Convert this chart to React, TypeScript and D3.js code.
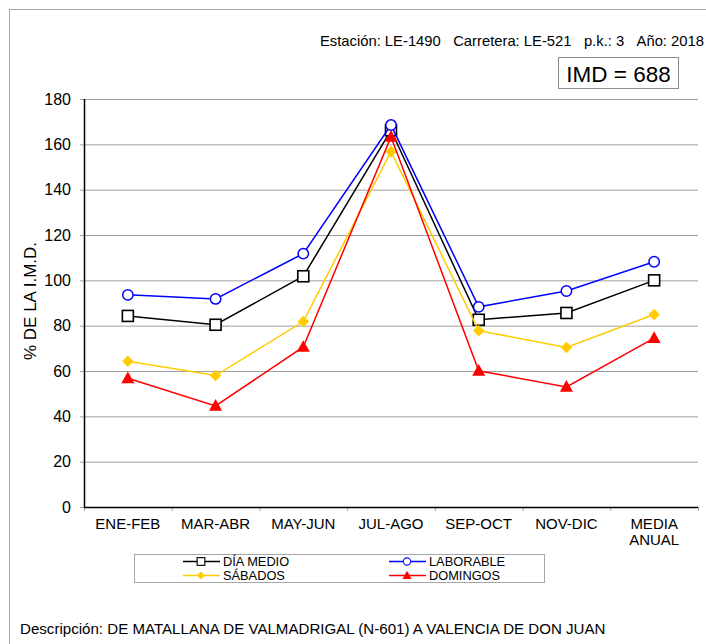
import React from "react";
import * as d3 from "d3";

const categories = ["ENE-FEB", "MAR-ABR", "MAY-JUN", "JUL-AGO", "SEP-OCT", "NOV-DIC", "MEDIA ANUAL"];
const diaMedio = [84.3, 80.4, 101.8, 166.2, 82.6, 85.6, 100];
const laborable = [93.6, 91.8, 111.8, 168.5, 88.3, 95.3, 108.2];
const sabados = [64.3, 58, 81.8, 156.8, 77.8, 70.4, 84.9];
const domingos = [56.8, 44.6, 70.6, 163.3, 60.1, 53, 74.5];
const yTicks = [0, 20, 40, 60, 80, 100, 120, 140, 160, 180];

const seriesList = [
  { name: "DÍA MEDIO", values: diaMedio, color: "#000000", marker: "square" },
  { name: "LABORABLE", values: laborable, color: "#0000FF", marker: "circle" },
  { name: "SÁBADOS", values: sabados, color: "#FFCC00", marker: "diamond" },
  { name: "DOMINGOS", values: domingos, color: "#FF0000", marker: "triangle" },
];

const FONT = "'Liberation Sans', Arial, Helvetica, sans-serif";

function Marker({ type, x, y, color }: { type: string; x: number; y: number; color: string }) {
  if (type === "square") {
    return <rect x={x - 5.5} y={y - 5.5} width={11} height={11} fill="#fff" stroke={color} strokeWidth={1.6} />;
  }
  if (type === "circle") {
    return <circle cx={x} cy={y} r={5.2} fill="#fff" stroke={color} strokeWidth={1.5} />;
  }
  if (type === "diamond") {
    const s = 5.5;
    return <path d={`M${x},${y - s}L${x + s},${y}L${x},${y + s}L${x - s},${y}Z`} fill={color} stroke={color} strokeWidth={0.5} />;
  }
  const s = 6.5;
  return <path d={`M${x},${y - s * 1.05}L${x + s},${y + s * 0.75}L${x - s},${y + s * 0.75}Z`} fill={color} />;
}

export default function App() {
  const W = 706, H = 644;
  const left = 84, right = 698, top = 99, bottom = 507;
  const x = d3.scaleBand<string>().domain(categories).range([left, right]);
  const y = d3.scaleLinear().domain([0, 180]).range([bottom, top]);
  const cx = (c: string) => (x(c) as number) + x.bandwidth() / 2;
  const line = d3.line<number>().x((_, i) => cx(categories[i])).y((v) => y(v));
  const boundaries = categories.map((c) => x(c) as number).concat([right]);

  return (
    <svg width={W} height={H} style={{ position: "absolute", left: 0, top: 0, fontFamily: FONT }}>
      <rect x={0} y={0} width={W} height={H} fill="#fff" />
      <rect x={9.5} y={9.5} width={W + 20} height={H + 20} fill="none" stroke="#a6a6a6" strokeWidth={1} />

      <text x={704} y={46} fontSize={14.8} textAnchor="end" fill="#000">
        {"Estación: LE-1490\u00a0\u00a0\u00a0Carretera: LE-521\u00a0\u00a0\u00a0p.k.: 3\u00a0\u00a0\u00a0Año: 2018"}
      </text>
      <rect x={558.5} y={57.5} width={120} height={31} fill="#fff" stroke="#8c8c8c" strokeWidth={1} />
      <text x={618.5} y={81.5} fontSize={22.5} textAnchor="middle" fill="#000">IMD = 688</text>

      {yTicks.map((t) => (
        <g key={t}>
          {t > 0 && <line x1={left} x2={right} y1={y(t) + 0.5} y2={y(t) + 0.5} stroke="#a0a0a0" strokeWidth={1} />}
          <line x1={left - 4} x2={left} y1={y(t) + 0.5} y2={y(t) + 0.5} stroke="#a0a0a0" strokeWidth={1} />
          <text x={71} y={y(t) + 5.5} fontSize={16} textAnchor="end" fill="#000">{t}</text>
        </g>
      ))}
      {boundaries.map((b, i) => (
        <line key={i} x1={b + 0.5} x2={b + 0.5} y1={bottom} y2={bottom + 4} stroke="#a0a0a0" strokeWidth={1} />
      ))}
      <line x1={left} x2={right} y1={bottom + 0.5} y2={bottom + 0.5} stroke="#000" strokeWidth={1.5} />
      <line x1={left + 0.5} x2={left + 0.5} y1={top} y2={bottom + 0.5} stroke="#000" strokeWidth={1.5} />

      {categories.map((c) => {
        const parts = c === "MEDIA ANUAL" ? ["MEDIA", "ANUAL"] : [c];
        return (
          <text key={c} x={cx(c)} y={529} fontSize={15} textAnchor="middle" fill="#000">
            {parts.map((p, i) => (
              <tspan key={i} x={cx(c)} dy={i === 0 ? 0 : 16}>{p}</tspan>
            ))}
          </text>
        );
      })}

      <text transform={`translate(36,${(top + bottom) / 2 - 2}) rotate(-90)`} fontSize={17} textAnchor="middle" fill="#000">
        % DE LA I.M.D.
      </text>

      {seriesList.map((s) => (
        <g key={s.name}>
          <path d={line(s.values) as string} fill="none" stroke={s.color} strokeWidth={1.5} />
          {s.values.map((v, i) => (
            <Marker key={i} type={s.marker} x={cx(categories[i])} y={y(v)} color={s.color} />
          ))}
        </g>
      ))}

      <rect x={134.5} y={554.5} width={410} height={28} fill="#fff" stroke="#a6a6a6" strokeWidth={1} />
      {seriesList.map((s, i) => {
        const col = i % 2;
        const row = Math.floor(i / 2);
        const lx = col === 0 ? 183 : 389;
        const ly = row === 0 ? 561.5 : 575.5;
        const mx = lx + 18;
        return (
          <g key={s.name}>
            <line x1={lx} x2={lx + 37} y1={ly} y2={ly} stroke={s.color} strokeWidth={1.5} />
            <g transform={`translate(${mx},${ly}) scale(0.7) translate(${-mx},${-ly})`}>
              <Marker type={s.marker} x={mx} y={ly} color={s.color} />
            </g>
            <text x={lx + 40} y={ly + 4.5} fontSize={12.8} fill="#000">{s.name}</text>
          </g>
        );
      })}

      <text x={20} y={634} fontSize={15.1} fill="#000">
        Descripción: DE MATALLANA DE VALMADRIGAL (N-601) A VALENCIA DE DON JUAN
      </text>
    </svg>
  );
}
